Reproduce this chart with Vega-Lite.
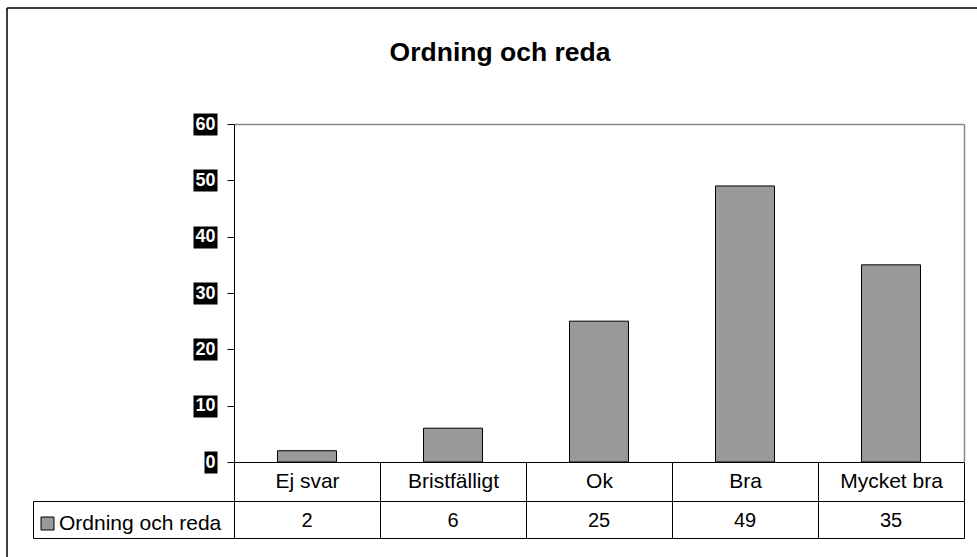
{
  "$schema": "https://vega.github.io/schema/vega-lite/v6.json",
  "width": 970,
  "height": 549,
  "autosize": {"type": "none"},
  "padding": {"left": 7, "top": 8, "right": 0, "bottom": 0},
  "background": "white",
  "title": {"text": "Ordning och reda", "font": "Liberation Sans", "fontSize": 26.5, "fontWeight": "bold", "color": "#000", "anchor": "middle", "baseline": "alphabetic", "offset": -79, "dx": 8},
  "data": {"values": [
    {"kategori": "Ej svar", "antal": 2, "serie": "Ordning och reda"},
    {"kategori": "Bristfälligt", "antal": 6, "serie": "Ordning och reda"},
    {"kategori": "Ok", "antal": 25, "serie": "Ordning och reda"},
    {"kategori": "Bra", "antal": 49, "serie": "Ordning och reda"},
    {"kategori": "Mycket bra", "antal": 35, "serie": "Ordning och reda"}
  ]},
  "layer": [
    {
      "mark": {"type": "bar", "stroke": "#000", "strokeWidth": 1, "width": {"band": 0.404}},
      "encoding": {
        "x": {"field": "kategori", "type": "nominal", "sort": null,
          "scale": {"range": [227, 957], "paddingInner": 0, "paddingOuter": 0},
          "axis": {"orient": "bottom", "offset": -95, "title": null, "domainColor": "#000", "tickColor": "#000", "tickBand": "extent", "tickSize": 76, "labelAngle": 0, "labelFont": "Liberation Sans", "labelFontSize": 21, "labelColor": "#000", "labelBaseline": "alphabetic", "labelPadding": -51, "labelLimit": 0}},
        "y": {"field": "antal", "type": "quantitative",
          "scale": {"domain": [0, 60], "range": [454, 116], "nice": false},
          "axis": {"orient": "left", "offset": -227, "title": null, "values": [0, 10, 20, 30, 40, 50, 60], "labels": false, "tickSize": 7, "tickColor": "#000", "domainColor": "#000", "grid": false}},
        "color": {"field": "serie", "type": "nominal", "scale": {"range": ["#999999"]},
          "legend": {"orient": "none", "legendX": 30, "legendY": 505, "title": null, "symbolType": "square", "symbolSize": 169, "symbolStrokeColor": "#000", "symbolStrokeWidth": 1, "labelFont": "Liberation Sans", "labelFontSize": 21, "labelColor": "#000", "labelOffset": 1, "padding": 0, "labelLimit": 0}}
      }
    },
    {
      "mark": {"type": "bar", "opacity": 0},
      "encoding": {
        "x": {"field": "kategori", "type": "nominal", "sort": null, "axis": null},
        "y": {"field": "antal", "type": "quantitative",
          "scale": {"domain": [0, 60], "range": [454, 116], "nice": false},
          "axis": {"orient": "left", "offset": -210, "title": null, "domain": false, "grid": false, "values": [0, 10, 20, 30, 40, 50, 60], "tickColor": "#000", "tickWidth": 22,
            "tickSize": {"condition": {"test": "datum.value === 0", "value": 13}, "value": 24},
            "labelColor": "#fff", "labelFont": "Liberation Sans", "labelFontSize": 18, "labelFontWeight": "bold", "labelAlign": "right", "labelBaseline": "middle",
            "labelPadding": {"condition": {"test": "datum.value === 0", "value": -11}, "value": -22}}}
      }
    },
    {
      "mark": {"type": "text", "font": "Liberation Sans", "fontSize": 20, "baseline": "alphabetic", "dy": 7.5, "color": "#000"},
      "encoding": {
        "x": {"field": "kategori", "type": "nominal", "sort": null, "axis": null},
        "y": {"field": "serie", "type": "nominal",
          "scale": {"range": [493, 530], "paddingInner": 0, "paddingOuter": 0},
          "axis": {"orient": "right", "offset": -944, "title": null, "labels": false, "tickBand": "extent", "tickSize": 931, "tickColor": "#000", "domainColor": "#000"}},
        "text": {"field": "antal", "type": "quantitative"}
      }
    },
    {
      "mark": {"type": "bar", "opacity": 0},
      "encoding": {
        "x": {"field": "kategori", "type": "nominal", "sort": null,
          "axis": {"orient": "top", "offset": -116, "title": null, "domainColor": "#888", "domainWidth": 1.5, "ticks": false, "labels": false}},
        "y": {"field": "antal", "type": "quantitative",
          "scale": {"domain": [0, 60], "range": [454, 116], "nice": false},
          "axis": {"orient": "right", "offset": -13, "title": null, "domainColor": "#888", "domainWidth": 1.5, "ticks": false, "labels": false, "grid": false}}
      }
    }
  ],
  "resolve": {"scale": {"y": "independent"}, "axis": {"x": "independent", "y": "independent"}},
  "config": {
    "view": {"stroke": "#000", "strokeWidth": 1.5, "strokeDash": [970, 1519, 549, 0]},
    "axis": {"domainWidth": 1, "tickWidth": 1, "grid": false}
  }
}
